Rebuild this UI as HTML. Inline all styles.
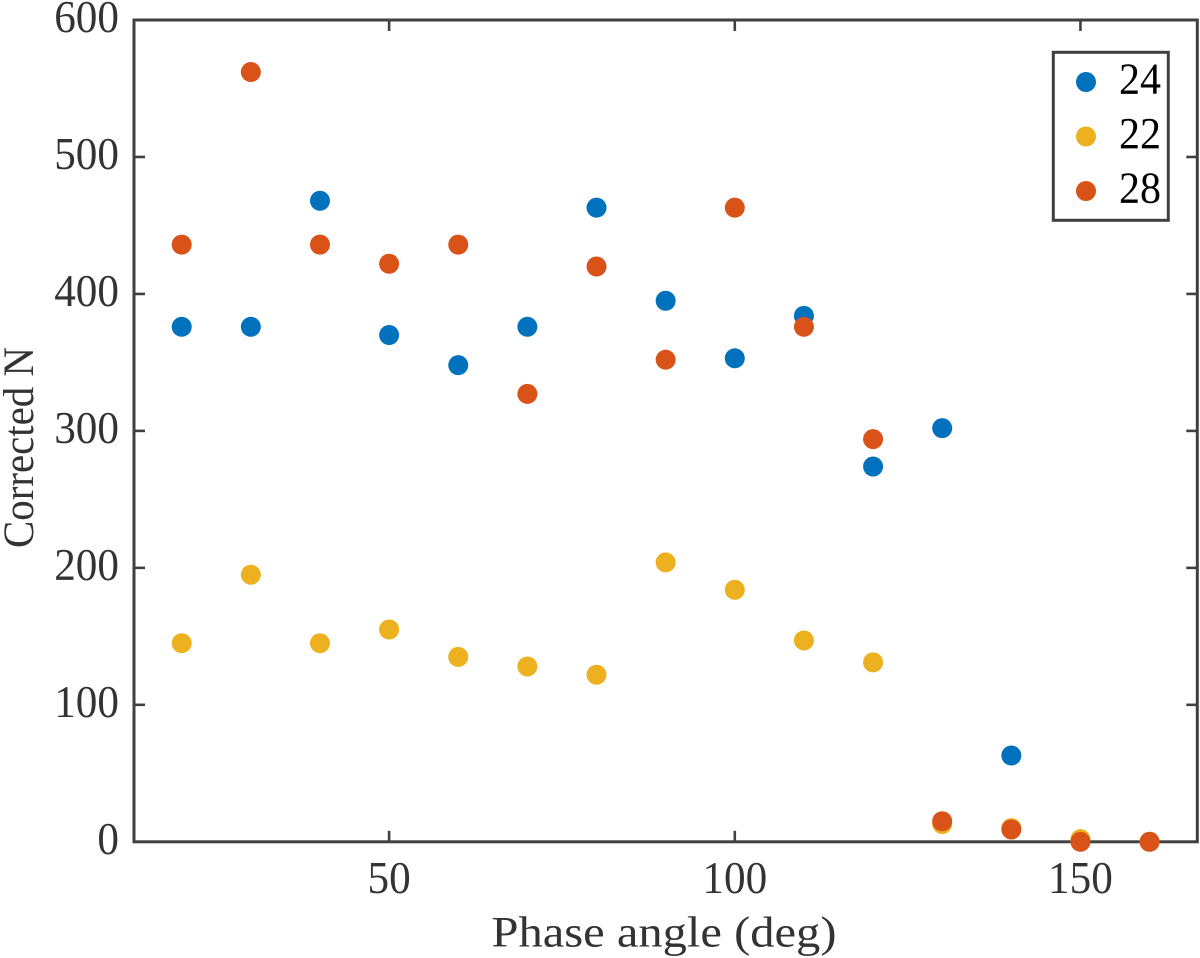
<!DOCTYPE html>
<html lang="en">
<head>
<meta charset="utf-8">
<title>Corrected N vs Phase angle</title>
<style>
  html, body { margin: 0; padding: 0; background: #fff; }
  #chart { display: block; }
  text { font-family: "Liberation Serif", serif; }
</style>
</head>
<body>
<svg id="chart" xmlns="http://www.w3.org/2000/svg" width="1200" height="958" viewBox="0 0 1200 958"></svg>
<script>
const phaseAngles = [20, 30, 40, 50, 60, 70, 80, 90, 100, 110, 120, 130, 140, 150, 160];
const series24 = [376, 376, 468, 370, 348, 376, 463, 395, 353, 384, 274, 302, 63, null, null];
const series22 = [145, 195, 145, 155, 135, 128, 122, 204, 184, 147, 131, 13, 10, 2, 0];
const series28 = [436, 562, 436, 422, 436, 327, 420, 352, 463, 376, 294, 15, 9, 0, 0];
const seriesLabels = ['24', '22', '28'];
const seriesColors = ['#0072BD', '#EDB120', '#D95319'];
const xTicks = [50, 100, 150];
const yTicks = [0, 100, 200, 300, 400, 500, 600];
const xTitle = 'Phase angle (deg)';
const yTitle = 'Corrected N';

const NS = 'http://www.w3.org/2000/svg';
const svg = document.getElementById('chart');
const plot = { left: 134, right: 1197.3, top: 20, bottom: 841.8 };
const xDomain = [13.1, 166.9];
const yDomain = [0, 600];
const axisColor = '#404040';
const labelColor = '#333333';
const digitWidth = 21.6;

function xScale(v) {
  return plot.left + (v - xDomain[0]) / (xDomain[1] - xDomain[0]) * (plot.right - plot.left);
}
function yScale(v) {
  return plot.bottom - (v - yDomain[0]) / (yDomain[1] - yDomain[0]) * (plot.bottom - plot.top);
}
function make(tag, attrs, parent, text) {
  const el = document.createElementNS(NS, tag);
  for (const k in attrs) el.setAttribute(k, attrs[k]);
  if (text !== undefined) el.textContent = text;
  parent.appendChild(el);
  return el;
}

const frame = make('rect', { x: plot.left, y: plot.top, width: plot.right - plot.left, height: plot.bottom - plot.top, fill: 'none', stroke: axisColor, 'stroke-width': 3 }, svg);



xTicks.forEach(function (t) {
  const x = xScale(t);
  const bottomTick = make('line', { x1: x, x2: x, y1: plot.bottom, y2: plot.bottom - 11, stroke: axisColor, 'stroke-width': 2.6 }, svg);
  
  
  const topTick = make('line', { x1: x, x2: x, y1: plot.top, y2: plot.top + 11, stroke: axisColor, 'stroke-width': 2.6 }, svg);
  
  
  const label = make('text', { x: x, y: 893, 'text-anchor': 'middle', 'font-size': 45, fill: labelColor, textLength: digitWidth * String(t).length, lengthAdjust: 'spacingAndGlyphs' }, svg, String(t));
  
  
});

yTicks.forEach(function (t) {
  const y = yScale(t);
  if (t > yDomain[0] && t < yDomain[1]) {
    const leftTick = make('line', { x1: plot.left, x2: plot.left + 11, y1: y, y2: y, stroke: axisColor, 'stroke-width': 2.6 }, svg);
    
    
    const rightTick = make('line', { x1: plot.right, x2: plot.right - 11, y1: y, y2: y, stroke: axisColor, 'stroke-width': 2.6 }, svg);
    
    
  }
  const label = make('text', { x: 119, y: y + 12, 'text-anchor': 'end', 'font-size': 45, fill: labelColor, textLength: digitWidth * String(t).length, lengthAdjust: 'spacingAndGlyphs' }, svg, String(t));
  
  
});

const xLabel = make('text', { x: 664, y: 946.7, 'text-anchor': 'middle', 'font-size': 43, fill: labelColor, textLength: 345, lengthAdjust: 'spacingAndGlyphs' }, svg, xTitle);



const yLabel = make('text', { x: 0, y: 0, transform: 'translate(33 447.5) rotate(-90)', 'text-anchor': 'middle', 'font-size': 43, fill: labelColor, textLength: 201, lengthAdjust: 'spacingAndGlyphs' }, svg, yTitle);



[series24, series22, series28].forEach(function (values, s) {
  const group = make('g', { fill: seriesColors[s] }, svg);
  
  
  values.forEach(function (v, i) {
    if (v === null) return;
    const dot = make('circle', { cx: xScale(phaseAngles[i]), cy: yScale(v), r: 10 }, group);
    
    
  });
});

const legend = make('g', {}, svg);


const legendBox = make('rect', { x: 1053.3, y: 52.3, width: 115, height: 168, fill: '#fff', stroke: axisColor, 'stroke-width': 3 }, legend);


seriesLabels.forEach(function (name, i) {
  const rowY = 82 + i * 54.5;
  const marker = make('circle', { cx: 1086, cy: rowY, r: 10, fill: seriesColors[i] }, legend);
  
  
  const text = make('text', { x: 1119, y: rowY + 11.5, 'font-size': 44, fill: '#000', textLength: 42, lengthAdjust: 'spacingAndGlyphs' }, legend, name);
  
  
});
</script>
</body>
</html>
